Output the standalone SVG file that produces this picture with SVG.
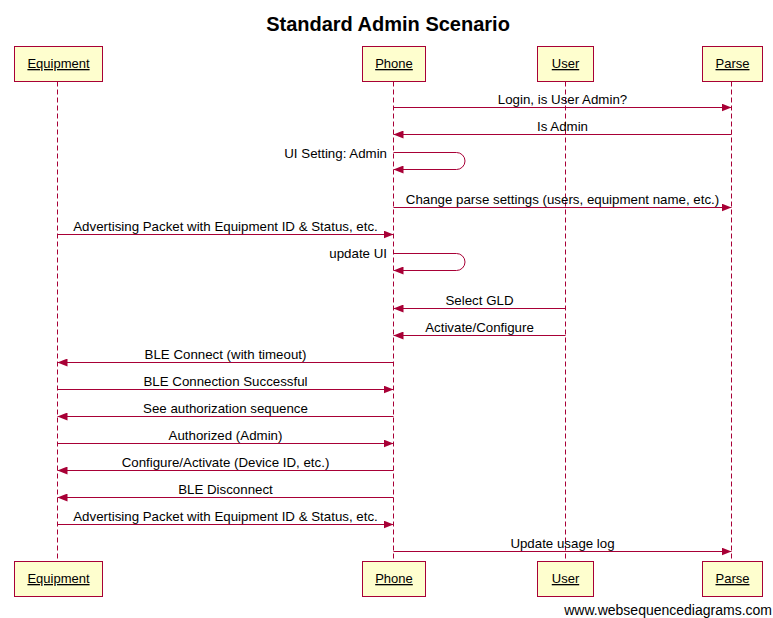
<svg xmlns="http://www.w3.org/2000/svg" width="773" height="618" viewBox="0 0 773 618">
<style>
text{font-family:"Liberation Sans",Arial,sans-serif;fill:#000}
.title{font-size:20px;font-weight:bold;text-anchor:middle}
.pt{font-size:13px;text-anchor:middle;text-decoration:underline}
.box{fill:#fefece;stroke:#a80036;stroke-width:1}
.life{stroke:#a80036;stroke-width:1;stroke-dasharray:5,3;fill:none}
.msg{stroke:#a80036;stroke-width:1;fill:none;marker-end:url(#ah)}
.ml{font-size:13.3px;text-anchor:middle}
.sl{font-size:13.3px;text-anchor:end}
.foot{font-size:14px;text-anchor:end}
</style>
<defs>
<marker id="ah" viewBox="0 0 10 8" refX="10" refY="4" markerWidth="10" markerHeight="8" markerUnits="userSpaceOnUse" orient="auto">
<path d="M0,0 L10,4 L0,8 z" fill="#a80036"/>
</marker>
</defs>
<rect width="773" height="618" fill="#fff"/>
<text class="title" x="388" y="31">Standard Admin Scenario</text>

<g id="lifelines">
<line class="life" x1="57.5" y1="81.5" x2="57.5" y2="561"/>
<line class="life" x1="393.5" y1="81.5" x2="393.5" y2="561"/>
<line class="life" x1="565.5" y1="81.5" x2="565.5" y2="561"/>
<line class="life" x1="731.5" y1="81.5" x2="731.5" y2="561"/>
</g>

<g id="equipment">
<rect class="box" x="14.5" y="46.5" width="88" height="35"/>
<text class="pt" x="58.5" y="68">Equipment</text>
<rect class="box" x="14.5" y="561.5" width="88" height="35"/>
<text class="pt" x="58.5" y="583">Equipment</text>
</g>
<g id="phone">
<rect class="box" x="362.5" y="46.5" width="63" height="35"/>
<text class="pt" x="394" y="68">Phone</text>
<rect class="box" x="362.5" y="561.5" width="63" height="35"/>
<text class="pt" x="394" y="583">Phone</text>
</g>
<g id="user">
<rect class="box" x="537.5" y="46.5" width="56" height="35"/>
<text class="pt" x="565.5" y="68">User</text>
<rect class="box" x="537.5" y="561.5" width="56" height="35"/>
<text class="pt" x="565.5" y="583">User</text>
</g>
<g id="parse">
<rect class="box" x="702.5" y="46.5" width="60" height="35"/>
<text class="pt" x="732.5" y="68">Parse</text>
<rect class="box" x="702.5" y="561.5" width="60" height="35"/>
<text class="pt" x="732.5" y="583">Parse</text>
</g>

<g id="connectors">
<path class="msg" d="M393.5,107.5 H731.5"/>
<text class="ml" x="562.5" y="104">Login, is User Admin?</text>
<path class="msg" d="M731.5,134.5 H393.5"/>
<text class="ml" x="562.5" y="131">Is Admin</text>
<path class="msg" d="M393.5,152.5 H456.5 A8.5,8.5 0 0 1 456.5,169.5 H393.5"/>
<text class="sl" x="387" y="158">UI Setting: Admin</text>
<path class="msg" d="M393.5,207.5 H731.5"/>
<text class="ml" x="562.5" y="204">Change parse settings (users, equipment name, etc.)</text>
<path class="msg" d="M57.5,234.5 H393.5"/>
<text class="ml" x="225.5" y="231">Advertising Packet with Equipment ID &amp; Status, etc.</text>
<path class="msg" d="M393.5,253.5 H456.5 A8.5,8.5 0 0 1 456.5,270.5 H393.5"/>
<text class="sl" x="387" y="258">update UI</text>
<path class="msg" d="M565.5,308.5 H393.5"/>
<text class="ml" x="479.5" y="305">Select GLD</text>
<path class="msg" d="M565.5,335.5 H393.5"/>
<text class="ml" x="479.5" y="332">Activate/Configure</text>
<path class="msg" d="M393.5,362.5 H57.5"/>
<text class="ml" x="225.5" y="359">BLE Connect (with timeout)</text>
<path class="msg" d="M57.5,389.5 H393.5"/>
<text class="ml" x="225.5" y="386">BLE Connection Successful</text>
<path class="msg" d="M393.5,416.5 H57.5"/>
<text class="ml" x="225.5" y="413">See authorization sequence</text>
<path class="msg" d="M57.5,443.5 H393.5"/>
<text class="ml" x="225.5" y="440">Authorized (Admin)</text>
<path class="msg" d="M393.5,470.5 H57.5"/>
<text class="ml" x="225.5" y="467">Configure/Activate (Device ID, etc.)</text>
<path class="msg" d="M393.5,497.5 H57.5"/>
<text class="ml" x="225.5" y="494">BLE Disconnect</text>
<path class="msg" d="M57.5,524.5 H393.5"/>
<text class="ml" x="225.5" y="521">Advertising Packet with Equipment ID &amp; Status, etc.</text>
<path class="msg" d="M393.5,551.5 H731.5"/>
<text class="ml" x="562.5" y="548">Update usage log</text>
</g>

<text class="foot" x="772" y="615">www.websequencediagrams.com</text>
</svg>
